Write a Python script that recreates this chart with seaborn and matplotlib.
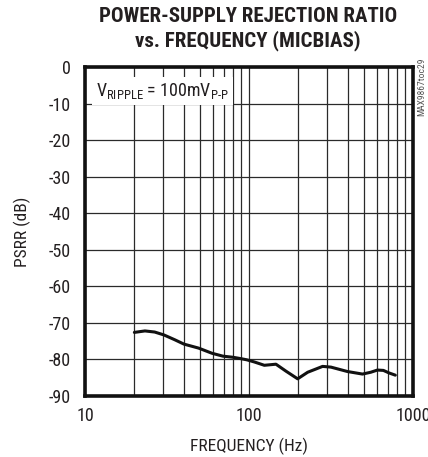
import numpy as np
import pandas as pd
import seaborn as sns
import matplotlib
matplotlib.use("Agg")
import matplotlib.pyplot as plt
from matplotlib.ticker import LogLocator, FixedLocator, NullFormatter

freq_hz = [20, 23.2, 26.6, 30.3, 35.2, 40.1, 49.3, 59.4, 69.3, 79.7, 89.7, 97, 108,
           124, 146, 168, 198, 228, 281, 316, 398, 492, 553, 607, 660, 715, 780]
psrr_db = [-72.6, -72.2, -72.5, -73.3, -74.6, -75.8, -76.9, -78.3, -79.1, -79.4, -79.8, -80.1, -80.7,
           -81.6, -81.3, -83.2, -85.3, -83.5, -81.9, -82.1, -83.3, -84.0, -83.5, -82.9, -83.0, -83.7, -84.3]
y_ticks = [0, -10, -20, -30, -40, -50, -60, -70, -80, -90]
x_ticks = [10, 100, 1000]

sns.set_style("white")
font = ["Roboto Condensed", "DejaVu Sans"]
plt.rcParams["font.family"] = font
plt.rcParams["mathtext.fontset"] = "custom"
plt.rcParams["mathtext.rm"] = "Roboto Condensed"
plt.rcParams["mathtext.it"] = "Roboto Condensed"
plt.rcParams["mathtext.default"] = "regular"

TXT = "#231f20"
fig = plt.figure(figsize=(4.28, 4.57), dpi=100)
ax = fig.add_axes([85/428, 1-396/457, (413-85)/428, (396-67)/457])

df = pd.DataFrame({"f": freq_hz, "p": psrr_db})
sns.lineplot(data=df, x="f", y="p", ax=ax, color="#111111", linewidth=2.2, zorder=3)
ax.lines[-1].set_solid_joinstyle("round")
ax.lines[-1].set_solid_capstyle("round")

ax.set_xscale("log")
ax.set_xlim(10, 1000)
ax.set_ylim(-90, 0)
ax.xaxis.set_major_locator(FixedLocator(x_ticks))
ax.xaxis.set_minor_locator(LogLocator(base=10, subs=np.arange(2, 10)))
ax.xaxis.set_minor_formatter(NullFormatter())
ax.set_xticklabels([str(v) for v in x_ticks])
ax.yaxis.set_major_locator(FixedLocator(y_ticks))
ax.set_yticklabels([str(v) for v in y_ticks])

ax.grid(True, which="major", axis="both", color="#2a2a2a", linewidth=0.9, zorder=1)
ax.grid(True, which="minor", axis="x", color="#2a2a2a", linewidth=0.9, zorder=1)
for s in ax.spines.values():
    s.set_linewidth(2.6)
    s.set_color("#111111")
    s.set_zorder(5)
ax.tick_params(which="both", length=0, labelsize=13, colors=TXT)
ax.tick_params(axis="y", pad=10)
ax.tick_params(axis="x", pad=8)

ax.set_xlabel("FREQUENCY (Hz)", fontsize=12.5, color=TXT, labelpad=9)
ax.set_ylabel("PSRR (dB)", fontsize=12.5, color=TXT, labelpad=13)

ax.text(0.033, 0.957, r"V$_{\mathregular{RIPPLE}}$ = 100mV$_{\mathregular{P\text{-}P}}$",
        transform=ax.transAxes, fontsize=13, color=TXT, va="top", ha="left",
        zorder=4, bbox=dict(facecolor="white", edgecolor="none", pad=3))

fig.text(248/428, 1-16/457, "POWER-SUPPLY REJECTION RATIO",
         ha="center", va="center", fontsize=15, fontweight="bold", color=TXT)
fig.text(248/428, 1-41/457, "vs. FREQUENCY (MICBIAS)",
         ha="center", va="center", fontsize=15, fontweight="bold", color=TXT)

fig.text(422/428, 1-87/457, "MAX9867toc29", rotation=90, ha="center", va="center",
         fontsize=6.8, color="#555555")

fig.savefig("out.png", dpi=100)
